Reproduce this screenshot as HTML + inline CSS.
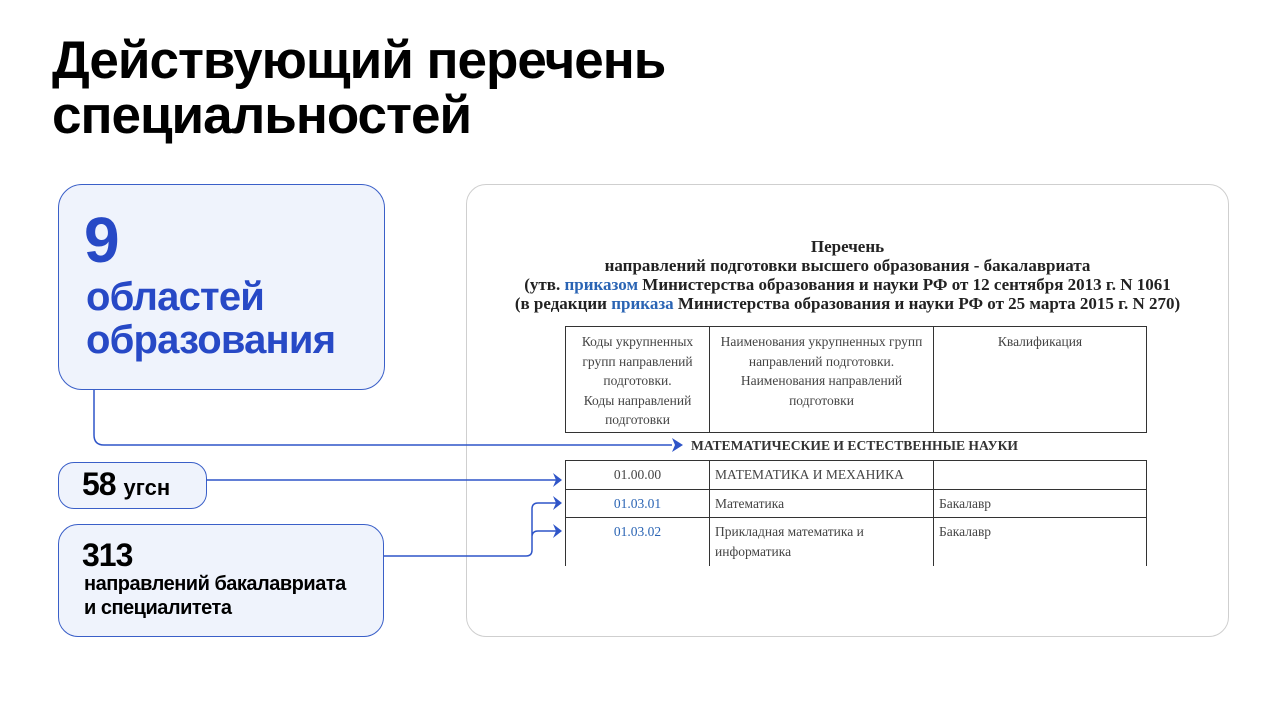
<!DOCTYPE html>
<html><head><meta charset="utf-8"><style>
body{margin:0;width:1280px;height:720px;background:#fff;position:relative;overflow:hidden;font-family:"Liberation Sans",sans-serif}
.t{position:absolute;left:52px;top:33px;font-size:53px;font-weight:bold;line-height:55px;letter-spacing:-1px;color:#000}
.box{position:absolute;background:#eff3fc;border:1.5px solid #3a5fc8;border-radius:24px;box-sizing:border-box}
.card{position:absolute;left:466px;top:184px;width:763px;height:453px;border:1px solid #cfcfcf;border-radius:20px;box-sizing:border-box}
.doc{position:absolute;font-family:"Liberation Serif",serif;color:#222}
.h{left:466px;width:763px;text-align:center;font-weight:bold;font-size:17px;line-height:19px;top:237px}
.h a{color:#2a64b4}
table{position:absolute;border-collapse:collapse;font-family:"Liberation Serif",serif;font-size:13.5px;color:#444;table-layout:fixed}
td{border:1px solid #333;vertical-align:top;padding:0 5px;box-sizing:border-box}
.c{text-align:center}
.b{color:#2a64b4}
</style></head><body>
<div class="t">Действующий перечень<br>специальностей</div>
<div class="box" style="left:58px;top:184px;width:327px;height:206px"></div>
<div style="position:absolute;left:84px;top:206px;color:#2749c6;font-weight:bold;font-size:64px;line-height:68px">9</div>
<div style="position:absolute;left:86px;top:276px;color:#2749c6;font-weight:bold;font-size:40px;line-height:43px;letter-spacing:-0.8px">областей<br>образования</div>
<div class="box" style="left:58px;top:462px;width:149px;height:47px;border-radius:16px"></div>
<div style="position:absolute;left:82px;top:465px;font-weight:bold;font-size:32px;line-height:38px;letter-spacing:-1px">58 <span style="font-size:22px;letter-spacing:0">угсн</span></div>
<div class="box" style="left:58px;top:524px;width:326px;height:113px;border-radius:20px"></div>
<div style="position:absolute;left:82px;top:538px;font-weight:bold;font-size:32px;line-height:34px;letter-spacing:-1px">313</div>
<div style="position:absolute;left:84px;top:572px;font-weight:bold;font-size:20px;line-height:24px;letter-spacing:-0.5px">направлений бакалавриата<br>и специалитета</div>
<div class="card"></div>
<div class="doc h">Перечень<br>направлений подготовки высшего образования - бакалавриата<br>(утв. <a>приказом</a> Министерства образования и науки РФ от 12 сентября 2013 г. N 1061<br>(в редакции <a>приказа</a> Министерства образования и науки РФ от 25 марта 2015 г. N 270)</div>
<table style="left:565px;top:326px;width:582px;height:107px;line-height:19.5px">
<colgroup><col style="width:144px"><col style="width:224px"><col></colgroup>
<tr><td class="c" style="padding-top:5px">Коды укрупненных групп направлений подготовки.<br>Коды направлений подготовки</td><td class="c" style="padding:5px 6px 0">Наименования укрупненных групп направлений подготовки.<br>Наименования направлений подготовки</td><td class="c" style="padding-top:5px">Квалификация</td></tr></table>
<div class="doc" style="left:691px;top:438px;font-size:13.6px;font-weight:bold;color:#333">МАТЕМАТИЧЕСКИЕ И ЕСТЕСТВЕННЫЕ НАУКИ</div>
<table style="left:565px;top:460px;width:582px;line-height:19.5px">
<colgroup><col style="width:144px"><col style="width:224px"><col></colgroup>
<tr style="height:29px"><td class="c" style="vertical-align:middle">01.00.00</td><td style="vertical-align:middle">МАТЕМАТИКА И МЕХАНИКА</td><td></td></tr>
<tr style="height:28px"><td class="c b" style="vertical-align:middle">01.03.01</td><td style="vertical-align:middle">Математика</td><td style="vertical-align:middle">Бакалавр</td></tr>
<tr style="height:48px"><td class="c b" style="border-bottom:none;padding-top:4px">01.03.02</td><td style="border-bottom:none;padding-top:4px">Прикладная математика и<br>информатика</td><td style="border-bottom:none;padding-top:4px">Бакалавр</td></tr>
</table>
<svg width="1280" height="720" style="position:absolute;left:0;top:0" fill="none" stroke="#2f55c8" stroke-width="1.5">
<path d="M94 390 V435 Q94 445 104 445 H672"/>
<path d="M206 480 H558"/>
<path d="M384 556 H526 Q532 556 532 550 V509 Q532 503 538 503 H558 M532 537 Q532 531 538 531 H558"/>
<g fill="#2f55c8" stroke="none">
<path d="M683 445 L672 438 L675 445 L672 452Z"/>
<path d="M562 480 L553 473 L556 480 L553 487Z"/>
<path d="M562 503 L553 496 L556 503 L553 510Z"/>
<path d="M562 531 L553 524 L556 531 L553 538Z"/>
</g></svg>
</body></html>
